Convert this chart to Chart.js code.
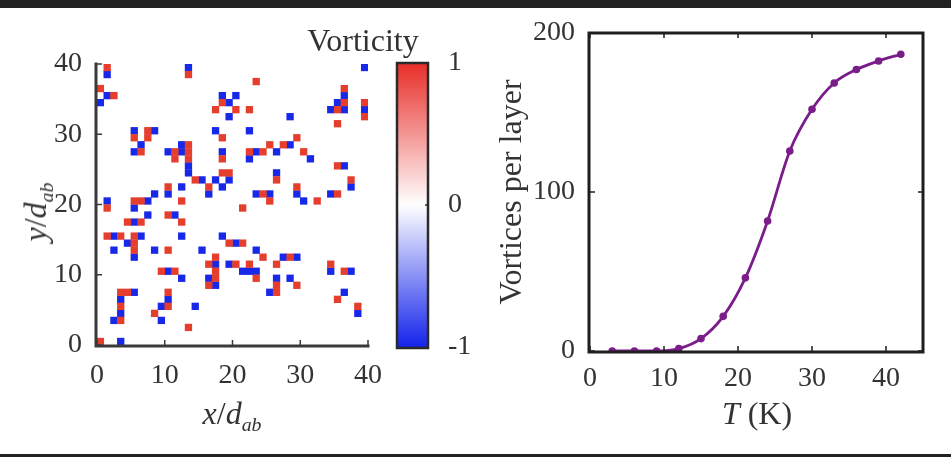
<!DOCTYPE html>
<html>
<head>
<meta charset="utf-8">
<script src="https://cdn.jsdelivr.net/npm/chart.js@4.4.1/dist/chart.umd.min.js"></script>
<style>
  body { margin: 0; background: #fff; }
  #page { position: relative; width: 951px; height: 457px; overflow: hidden; background: #fff;
          font-family: 'Liberation Serif', serif; color: #333; }
  .topbar { position: absolute; left: 0; top: 0; width: 951px; height: 8px; background: #222; }
  .botbar { position: absolute; left: 0; top: 454px; width: 951px; height: 3px; background: #222; }
  .box { position: absolute; top: 0; height: 457px; }
  .lbl { position: absolute; white-space: nowrap; line-height: 1; font-size: 32px;
         transform: translate(-50%, -50%); }
  .lbl sub { font-size: 0.62em; vertical-align: -0.35em; line-height: 0; }
  .rot { transform: translate(-50%, -50%) rotate(-90deg); }
</style>
</head>
<body>
<div id="page">
  <div class="topbar"></div>
  <div class="botbar"></div>
  <div class="box" style="left:0;width:390px"><canvas id="mapChart"></canvas></div>
  <div class="box" style="left:390px;width:90px"><canvas id="cbarChart"></canvas></div>
  <div class="box" style="left:480px;width:471px"><canvas id="curveChart"></canvas></div>
  <div class="lbl" style="left:363px;top:40px">Vorticity</div>
  <div class="lbl" style="left:232px;top:413px"><i>x</i>/<i>d</i><sub><i>ab</i></sub></div>
  <div class="lbl rot" style="left:35px;top:212px"><i>y</i>/<i>d</i><sub><i>ab</i></sub></div>
  <div class="lbl" style="left:757px;top:413px"><i>T</i> (K)</div>
</div>
<script>
// ---- data ----
const gridTicks = [0, 10, 20, 30, 40];
// cells with vorticity +1 (red), [x, y] of lower-left corner
const posCells = [
  [1,39],[13,38],[0,36],[2,35],[18,34],[17,33],[7,30],[5,29],[7,29],[6,27],[18,29],[13,28],
  [11,27],[13,27],[11,26],[13,26],[14,23],[16,22],[18,24],[18,26],[19,24],[10,22],[5,20],[6,20],[12,20],
  [23,37],[20,33],[22,33],[36,36],[36,34],[35,33],[39,34],[39,32],[35,31],[29,29],[25,28],[27,28],
  [22,27],[24,27],[30,27],[35,25],[26,23],[37,23],[29,22],[24,21],[25,20],[32,20],[35,21],
  [1,19],[4,17],[6,17],[10,18],[12,17],[1,15],[3,15],[5,15],[5,14],[5,13],[10,13],[19,14],[17,12],
  [16,11],[17,10],[17,9],[16,8],[9,10],[11,10],[3,7],[4,7],[3,5],[3,3],[10,7],[10,5],[8,4],[13,2],[0,0],
  [21,19],[21,14],[24,12],[20,11],[22,11],[23,9],[26,11],[28,12],[26,8],[26,7],[29,8],[34,11],[36,10],
  [35,6],[38,5]
];
// cells with vorticity -1 (blue)
const negCells = [
  [1,38],[13,39],[1,35],[0,34],[18,35],[19,34],[19,32],[5,30],[8,30],[6,28],[5,27],[17,30],[12,28],
  [10,27],[12,27],[13,25],[13,24],[15,23],[17,23],[18,22],[18,27],[19,23],[16,21],[12,22],[10,21],
  [8,21],[7,20],[1,20],
  [39,39],[20,35],[36,35],[35,34],[34,33],[36,33],[39,33],[28,32],[22,30],[28,28],[23,27],[26,27],
  [22,26],[31,26],[36,25],[26,24],[37,22],[29,21],[30,20],[23,21],[25,21],[34,21],
  [5,19],[7,18],[5,17],[11,18],[2,15],[4,14],[6,15],[5,12],[2,13],[8,13],[12,15],[15,13],[18,15],
  [17,11],[19,11],[16,9],[17,8],[10,10],[12,9],[5,7],[3,6],[3,4],[2,3],[10,6],[9,5],[9,3],[14,5],[3,0],
  [20,14],[23,13],[21,10],[22,10],[23,10],[27,12],[29,12],[26,9],[25,7],[28,9],[34,10],[37,10],
  [36,7],[38,4]
];
const cbarTicks = [-1, 0, 1];

const tempK = [3, 6, 9, 12, 15, 18, 21, 24, 27, 30, 33, 36, 39, 42];
const vortCount = [0, 0, 0, 1.5, 7.8, 21.8, 46, 81.8, 125.8, 152, 168.6, 177, 182.4, 186.6];
const tTicks = [0, 10, 20, 30, 40];
const countTicks = [0, 100, 200];

const RED = 'rgb(229,62,45)';
const BLUE = 'rgb(24,40,232)';
const PURPLE = '#7a1c8a';
const TXT = '#333';
const tickFont = { family: 'Liberation Serif', size: 28 };

Chart.defaults.animation = false;
Chart.defaults.plugins.legend.display = false;
Chart.defaults.plugins.tooltip.enabled = false;
Chart.defaults.color = TXT;

// axis lines / box and inward ticks
const frame = {
  id: 'frame',
  afterDatasetsDraw(chart, args, o) {
    if (!o.sides) return;
    const { ctx, chartArea: a } = chart;
    const xs = chart.scales.x, ys = chart.scales.y;
    ctx.save();
    ctx.strokeStyle = o.color;
    ctx.lineWidth = o.tickWidth;
    ctx.beginPath();
    (o.xTickSides || []).forEach(side => {
      xs.ticks.forEach(t => {
        const px = xs.getPixelForValue(t.value);
        const y0 = side === 'bottom' ? a.bottom : a.top;
        ctx.moveTo(px, y0);
        ctx.lineTo(px, side === 'bottom' ? y0 - o.len : y0 + o.len);
      });
    });
    (o.yTickSides || []).forEach(side => {
      ys.ticks.forEach(t => {
        const py = ys.getPixelForValue(t.value);
        const x0 = side === 'left' ? a.left : a.right;
        ctx.moveTo(x0, py);
        ctx.lineTo(side === 'left' ? x0 + o.len : x0 - o.len, py);
      });
    });
    ctx.stroke();
    ctx.lineWidth = o.width;
    ctx.lineCap = 'square';
    ctx.beginPath();
    if (o.sides.includes('left')) { ctx.moveTo(a.left - 1, a.top); ctx.lineTo(a.left - 1, a.bottom + 1); }
    if (o.sides.includes('bottom')) { ctx.moveTo(a.left - 1, a.bottom + 1); ctx.lineTo(a.right, a.bottom + 1); }
    if (o.sides.includes('top')) { ctx.moveTo(a.left - 1, a.top); ctx.lineTo(a.right, a.top); }
    if (o.sides.includes('right')) { ctx.moveTo(a.right, a.top); ctx.lineTo(a.right, a.bottom + 1); }
    ctx.stroke();
    ctx.restore();
  }
};

function fixTicks(list) {
  return scale => { scale.ticks = list.map(v => ({ value: v })); };
}
// one grid cell in pixels -> radius of a 'rect' point of that size (a touch larger, like the blurred original)
function cellRadius(c) {
  const s = c.chart.scales.x;
  const side = Math.abs(s.getPixelForValue(1) - s.getPixelForValue(0)) * 1.08;
  return side / (2 * Math.SQRT1_2);
}
function toPoints(cells) {
  return cells.map(p => ({ x: p[0] + 0.5, y: p[1] + 0.5 }));
}

// ---- vorticity map ----
new Chart(document.getElementById('mapChart'), {
  type: 'scatter',
  data: {
    datasets: [
      { data: toPoints(posCells), backgroundColor: RED, pointRadius: cellRadius, pointHoverRadius: cellRadius },
      { data: toPoints(negCells), backgroundColor: BLUE, pointRadius: cellRadius, pointHoverRadius: cellRadius }
    ]
  },
  options: {
    responsive: true,
    maintainAspectRatio: false,
    layout: { padding: { top: 64, right: 22, left: 0, bottom: 0 } },
    elements: { point: { pointStyle: 'rect', borderWidth: 0 } },
    scales: {
      x: {
        type: 'linear', min: 0, max: 40,
        afterBuildTicks: fixTicks(gridTicks),
        afterFit: s => { s.height = 112; },
        grid: { display: false }, border: { display: false },
        ticks: { font: tickFont, padding: 6, maxRotation: 0 }
      },
      y: {
        type: 'linear', min: 0, max: 40,
        afterBuildTicks: fixTicks(gridTicks),
        afterFit: s => { s.width = 97; },
        grid: { display: false }, border: { display: false },
        ticks: { font: tickFont, padding: 7 }
      }
    },
    plugins: {
      frame: { sides: ['left', 'bottom'], color: '#3a3a3a', width: 3, tickWidth: 1.5, len: 5,
               xTickSides: ['bottom'], yTickSides: ['left'] }
    }
  },
  plugins: [frame]
});

// ---- colour bar ----
new Chart(document.getElementById('cbarChart'), {
  type: 'bar',
  data: {
    labels: ['Vorticity'],
    datasets: [{
      data: [[-1, 1]],
      barPercentage: 1, categoryPercentage: 1, borderWidth: 0,
      backgroundColor: c => {
        const a = c.chart.chartArea;
        if (!a) return '#fff';
        const g = c.chart.ctx.createLinearGradient(0, a.top, 0, a.bottom);
        g.addColorStop(0, 'rgb(232,45,40)');
        g.addColorStop(0.5, '#ffffff');
        g.addColorStop(1, 'rgb(20,35,235)');
        return g;
      }
    }]
  },
  options: {
    responsive: true,
    maintainAspectRatio: false,
    layout: { padding: { top: 63, right: 0, left: 8, bottom: 110 } },
    scales: {
      x: { display: false },
      y: {
        position: 'right', min: -1, max: 1,
        afterBuildTicks: fixTicks(cbarTicks),
        afterFit: s => { s.width = 52; },
        grid: { display: false }, border: { display: false },
        ticks: { font: tickFont, padding: 12, labelOffset: 0 }
      }
    },
    plugins: {
      frame: { sides: ['left', 'bottom', 'top', 'right'], color: '#2a2a2a', width: 2.5, tickWidth: 1.5,
               len: 3, xTickSides: [], yTickSides: ['right'] }
    }
  },
  plugins: [frame]
});

// ---- vortices vs temperature ----
new Chart(document.getElementById('curveChart'), {
  type: 'scatter',
  data: {
    datasets: [{
      data: tempK.map((t, i) => ({ x: t, y: vortCount[i] })),
      showLine: true,
      borderColor: PURPLE, backgroundColor: PURPLE,
      borderWidth: 2.8, pointRadius: 3.8, pointBorderWidth: 0,
      cubicInterpolationMode: 'monotone'
    }]
  },
  options: {
    responsive: true,
    maintainAspectRatio: false,
    layout: { padding: { top: 33, right: 28, left: 0, bottom: 0 } },
    scales: {
      x: {
        type: 'linear', min: 0, max: 45,
        afterBuildTicks: fixTicks(tTicks),
        afterFit: s => { s.height = 106; },
        grid: { display: false }, border: { display: false },
        ticks: { font: tickFont, padding: 3, maxRotation: 0 }
      },
      y: {
        type: 'linear', min: 0, max: 200,
        afterBuildTicks: fixTicks(countTicks),
        afterFit: s => { s.width = 110; },
        grid: { display: false }, border: { display: false },
        ticks: { font: tickFont, padding: 7 },
        title: { display: true, text: 'Vortices per layer', color: TXT,
                 font: { family: 'Liberation Serif', size: 32 }, padding: { top: 13, bottom: 0 } }
      }
    },
    plugins: {
      frame: { sides: ['left', 'bottom', 'top', 'right'], color: '#1e1e1e', width: 3, tickWidth: 1.5, len: 5,
               xTickSides: ['bottom', 'top'], yTickSides: ['left', 'right'] }
    }
  },
  plugins: [frame]
});
</script>
</body>
</html>
